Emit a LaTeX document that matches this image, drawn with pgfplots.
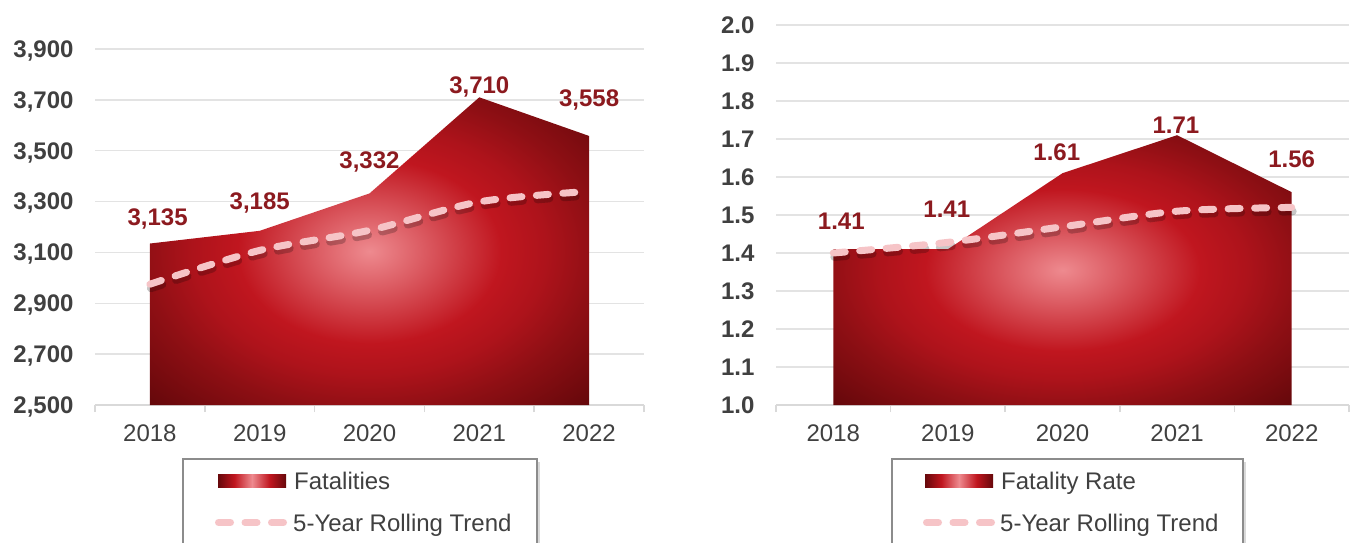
\documentclass[border=0pt]{standalone}
\usepackage{fontspec}
\setmainfont{Liberation Sans}
\usepackage{pgfplots}
\pgfplotsset{compat=1.18}
\usetikzlibrary{shadows}

\definecolor{lblred}{HTML}{8C1A1F}
\definecolor{txtgray}{HTML}{404040}
\definecolor{gridgray}{HTML}{E3E3E3}
\definecolor{axgray}{HTML}{D9D9D9}
\definecolor{trendpink}{HTML}{F6C4C7}
\definecolor{framegray}{HTML}{8C8C8C}
\definecolor{shC}{HTML}{EE8A8F}
\definecolor{shA}{HTML}{DC5C63}
\definecolor{shR}{HTML}{C0161F}
\definecolor{shM}{HTML}{AE131B}
\definecolor{shD}{HTML}{8E0F14}
\definecolor{shE}{HTML}{66080B}

% area fill: light centre, red body, dark corners (bbox maps to +-25bp)
\pgfdeclareradialshading{areashade}{\pgfpoint{0bp}{0bp}}{color(0bp)=(shC); color(6bp)=(shA); color(15bp)=(shR); color(20bp)=(shM); color(26bp)=(shD); color(35bp)=(shE); color(50bp)=(shE)}
\pgfdeclarehorizontalshading{legshade}{100bp}{color(0bp)=(shE); color(25bp)=(shE); color(37bp)=(shR); color(50bp)=(shC); color(63bp)=(shR); color(75bp)=(shE); color(100bp)=(shE)}

\pgfplotsset{
  chartbase/.style={
    scale only axis,
    anchor=south west,
    xmin=-0.5, xmax=4.5,
    xtick={0,...,4},
    xticklabels={2018,2019,2020,2021,2022},
    minor xtick={-0.5,0.5,1.5,2.5,3.5,4.5},
    major tick length=0pt,
    minor tick length=7pt,
    tick align=outside,
    tick style={axgray, line width=1.5pt},
    ymajorgrids,
    grid style={gridgray, line width=1.5pt},
    separate axis lines,
    axis x line*=bottom,
    axis y line*=left,
    y axis line style={draw=none},
    x axis line style={axgray, line width=1.5pt, -},
    scaled y ticks=false,
    /pgf/number format/assume math mode=true,
    xticklabel style={font=\fontsize{24}{28}\selectfont, text=txtgray, yshift=-16pt},
    yticklabel style={font=\bfseries\fontsize{24}{28}\selectfont, text=txtgray, xshift=-18pt, text depth=0pt},
  },
  trend/.style={trendpink, line width=7pt, dash pattern=on 12pt off 14.5pt, line cap=round, smooth, tension=0.5},
  trendshadow/.style={black, opacity=0.22, line width=8pt, dash pattern=on 12pt off 14.5pt, line cap=round, smooth, tension=0.5, yshift=-4pt, xshift=1pt},
}
\tikzset{
  lbl/.style={font=\bfseries\fontsize{24}{28}\selectfont, text=lblred, text depth=0pt, inner sep=0pt},
  legtxt/.style={font=\fontsize{24}{28}\selectfont, text=txtgray, inner sep=0pt, anchor=base west},
  legframe/.style={draw=framegray, line width=1.5pt, fill=white, drop shadow={shadow xshift=3pt, shadow yshift=-3pt, opacity=0.3}},
}

\begin{document}
\begin{tikzpicture}
\useasboundingbox (0,0) rectangle (1350pt,542pt);

% ---- Fatalities ----
\begin{axis}[chartbase,
    at={(95pt,137pt)}, width=549pt, height=356pt,
    ymin=2500, ymax=3900,
    ytick={2500,2700,2900,3100,3300,3500,3700,3900},
    yticklabel style={/pgf/number format/1000 sep={,}},
]
\addplot[draw=none, shade, shading=areashade] coordinates {
    (0,2500) (0,3135) (1,3185) (2,3332) (3,3710) (4,3558) (4,2500)};
\addplot[trendshadow] coordinates {(0,2975) (1,3108) (2,3187) (3,3299) (4,3340)};
\addplot[trend] coordinates {(0,2975) (1,3108) (2,3187) (3,3299) (4,3340)};
\node[lbl] at (axis cs:0.07,3240) {3,135};
\node[lbl] at (axis cs:1.0,3303) {3,185};
\node[lbl] at (axis cs:2.0,3463) {3,332};
\node[lbl] at (axis cs:3.0,3757) {3,710};
\node[lbl] at (axis cs:4.0,3706) {3,558};
\end{axis}

% ---- Fatality Rate ----
\begin{axis}[chartbase,
    at={(776pt,137pt)}, width=573pt, height=380pt,
    ymin=1.0, ymax=2.0,
    ytick={1.0,1.1,1.2,1.3,1.4,1.5,1.6,1.7,1.8,1.9,2.0},
    yticklabel style={/pgf/number format/.cd, fixed, fixed zerofill, precision=1},
]
\addplot[draw=none, shade, shading=areashade] coordinates {
    (0,1.0) (0,1.41) (1,1.41) (2,1.61) (3,1.71) (4,1.56) (4,1.0)};
\addplot[trendshadow] coordinates {(0,1.40) (1,1.428) (2,1.469) (3,1.51) (4,1.52)};
\addplot[trend] coordinates {(0,1.40) (1,1.428) (2,1.469) (3,1.51) (4,1.52)};
\node[lbl] at (axis cs:0.07,1.483) {1.41};
\node[lbl] at (axis cs:0.99,1.515) {1.41};
\node[lbl] at (axis cs:1.95,1.665) {1.61};
\node[lbl] at (axis cs:2.99,1.736) {1.71};
\node[lbl] at (axis cs:4.0,1.648) {1.56};
\end{axis}

% ---- legends ----
\draw[legframe] (183pt,-3pt) rectangle (537pt,83pt);
\shade[shading=legshade] (218pt,55pt) rectangle (286pt,68pt);
\node[legtxt] at (294pt,53pt) {Fatalities};
\draw[trendpink, line width=7pt, dash pattern=on 12pt off 14.5pt, line cap=round] (218.5pt,19.5pt) -- (283.5pt,19.5pt);
\node[legtxt] at (293pt,11pt) {5-Year Rolling Trend};

\draw[legframe] (892pt,-3pt) rectangle (1243pt,83pt);
\shade[shading=legshade] (925pt,55pt) rectangle (993pt,68pt);
\node[legtxt] at (1001pt,53pt) {Fatality Rate};
\draw[trendpink, line width=7pt, dash pattern=on 12pt off 14.5pt, line cap=round] (926.5pt,19.5pt) -- (991.5pt,19.5pt);
\node[legtxt] at (1000pt,11pt) {5-Year Rolling Trend};
\end{tikzpicture}
\end{document}
